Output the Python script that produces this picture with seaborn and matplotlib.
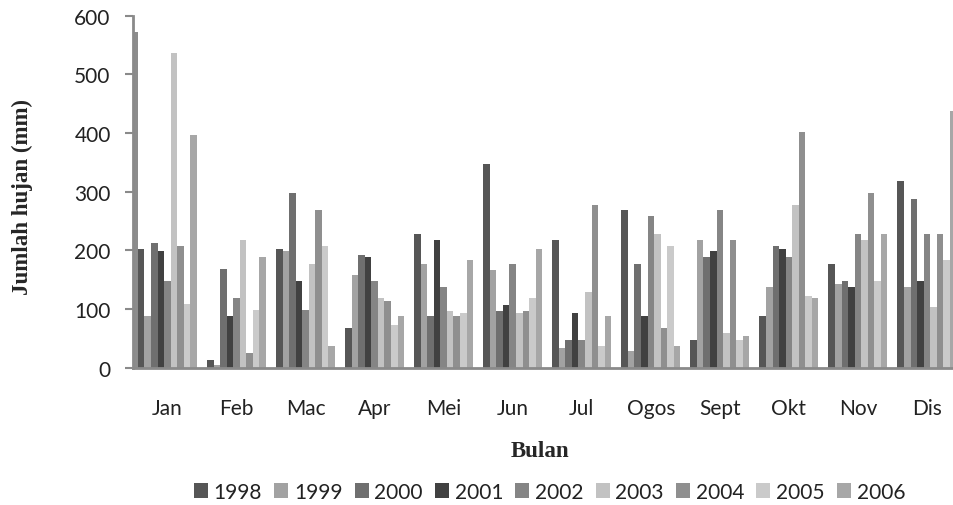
import numpy as np
import pandas as pd
import seaborn as sns
import matplotlib.pyplot as plt
from matplotlib.patches import Patch

months = ["Jan", "Feb", "Mac", "Apr", "Mei", "Jun", "Jul", "Ogos", "Sept", "Okt", "Nov", "Dis"]
years = ["1998", "1999", "2000", "2001", "2002", "2003", "2004", "2005", "2006"]

# rainfall (mm) per month, one list per year
r1998 = [202, 12, 202, 68, 227, 347, 218, 268, 47, 88, 176, 318]
r1999 = [88, 4, 198, 158, 176, 167, 33, 28, 218, 138, 142, 138]
r2000 = [213, 168, 297, 192, 88, 97, 47, 176, 189, 208, 148, 287]
r2001 = [198, 88, 148, 189, 218, 107, 93, 88, 198, 202, 138, 148]
r2002 = [148, 119, 98, 148, 138, 176, 47, 258, 268, 189, 227, 227]
r2003 = [537, 218, 176, 118, 97, 93, 128, 227, 59, 277, 218, 104]
r2004 = [208, 24, 268, 113, 88, 97, 277, 68, 218, 401, 297, 227]
r2005 = [108, 98, 208, 72, 93, 118, 37, 208, 47, 122, 148, 183]
r2006 = [397, 189, 37, 88, 183, 202, 88, 37, 53, 118, 227, 438]
# stray bar drawn in the first slot of the Jan group (no legend entry)
jan_extra = [572]

colors = ["#565656", "#a2a2a2", "#6f6f6f", "#414141", "#858585",
          "#c2c2c2", "#8f8f8f", "#cacaca", "#a7a7a7"]
extra_color = "#8c8c8c"

rows = []
for y, vals in zip(years, [r1998, r1999, r2000, r2001, r2002, r2003, r2004, r2005, r2006]):
    for m, v in zip(months, vals):
        rows.append({"Bulan": m, "Tahun": y, "Hujan": v})
rows.append({"Bulan": "Jan", "Tahun": "extra", "Hujan": jan_extra[0]})
df = pd.DataFrame(rows)

sns.set_theme(style="white")
plt.rcParams["font.family"] = ["Lato", "DejaVu Sans"]

fig = plt.figure(figsize=(9.54, 5.06), dpi=100)
ax = fig.add_axes([0.1393, 0.2717, 0.8686, 0.6953])

palette = dict(zip(years, colors))
palette["extra"] = extra_color
sns.barplot(data=df, x="Bulan", y="Hujan", hue="Tahun", order=months,
            hue_order=["extra"] + years, palette=palette, width=0.95,
            errorbar=None, linewidth=0, saturation=1, legend=False, ax=ax)

axis_gray = "#8a8a8a"
left = -0.4525
ax.set_xlim(left, left + 12)
ax.set_ylim(0, 600)
ax.set_yticks(range(0, 601, 100))
ax.set_xticks(np.arange(12) + left + 0.5, months)
ax.set_xticks(np.arange(13) + left, minor=True)
ax.tick_params(axis="x", which="major", length=0, pad=22, labelsize=15, labelcolor="#222222")
ax.tick_params(axis="x", which="minor", length=6, width=1.5, color=axis_gray, direction="out")
ax.tick_params(axis="y", length=6, width=1.5, color=axis_gray, direction="out",
               pad=10, labelsize=15, labelcolor="#222222", left=True)
for s in ["top", "right"]:
    ax.spines[s].set_visible(False)
for s in ["left", "bottom"]:
    ax.spines[s].set_color(axis_gray)
    ax.spines[s].set_linewidth(2)
ax.spines["left"].set_zorder(5)
ax.set_xlabel("")
ax.set_ylabel("")

fig.text(0.023, 0.61, "Jumlah hujan (mm)", rotation=90, ha="center", va="center",
         family="Liberation Serif", fontweight="bold", fontsize=16.5)
fig.text(0.566, 0.107, "Bulan", ha="center", va="center",
         family="Liberation Serif", fontweight="bold", fontsize=16.5)

handles = [Patch(facecolor=c, edgecolor="none") for c in colors]
fig.legend(handles, years, loc="center", bbox_to_anchor=(0.576, 0.026), ncol=9,
           frameon=False, fontsize=15, handlelength=0.67, handleheight=0.67,
           handletextpad=0.28, columnspacing=0.58, labelcolor="#222222")

fig.savefig("out.png", dpi=100)
